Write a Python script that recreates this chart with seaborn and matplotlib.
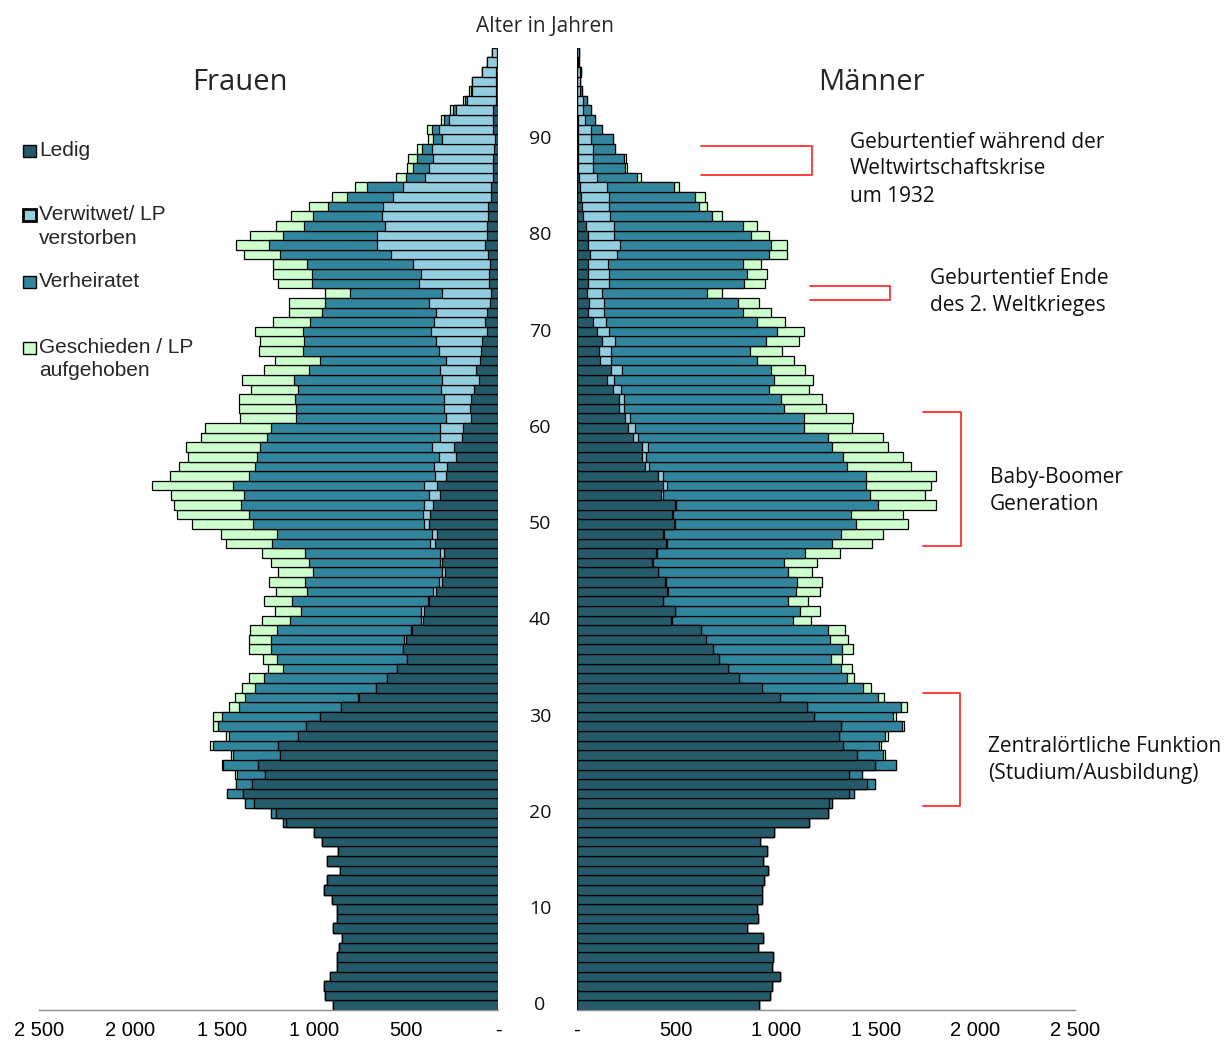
import numpy as np
import pandas as pd
import matplotlib
matplotlib.use("Agg")
import matplotlib.pyplot as plt
import seaborn as sns
from matplotlib import transforms
from matplotlib.patches import Rectangle
from matplotlib.lines import Line2D

sns.set_style("white")
plt.rcParams["font.family"] = ["Open Sans", "DejaVu Sans"]

ages = list(range(100))
categories = ["Ledig", "Verwitwet", "Verheiratet", "Geschieden"]
age_ticks = list(range(0, 100, 10))
x_ticks = [0, 500, 1000, 1500, 2000, 2500]
x_ticklabels = ["-", "500", "1 000", "1 500", "2 000", "2 500"]

# ---------------- Frauen ----------------
frauen_ledig = [897, 940, 946, 913, 875, 879, 864, 850, 897, 875,
                879, 902, 946, 930, 861, 930, 871, 957, 1000, 1155,
                1207, 1327, 1389, 1338, 1267, 1305, 1186, 1196, 1086, 1046,
                970, 855, 757, 666, 606, 548, 497, 516, 503, 467,
                410, 405, 374, 338, 305, 289, 307, 294, 345, 334,
                378, 372, 352, 316, 330, 283, 278, 231, 238, 194,
                189, 147, 151, 147, 129, 105, 118, 98, 91, 87,
                62, 71, 58, 45, 40, 50, 47, 44, 53, 71,
                62, 60, 56, 53, 40, 40, 29, 29, 29, 22,
                15, 29, 25, 25, 11, 11, 11, 11, 5, 3]
frauen_verwitwet = [0, 0, 0, 0, 0, 0, 0, 0, 0, 0,
                    0, 0, 0, 0, 0, 0, 0, 0, 0, 0,
                    0, 0, 0, 0, 0, 0, 0, 0, 0, 0,
                    0, 0, 4, 0, 0, 4, 0, 2, 11, 9,
                    11, 14, 9, 14, 15, 18, 11, 20, 27, 27,
                    27, 35, 53, 60, 71, 60, 71, 92, 121, 122,
                    127, 136, 141, 147, 183, 198, 198, 185, 229, 249,
                    303, 278, 278, 329, 267, 381, 374, 421, 532, 590,
                    599, 557, 576, 575, 532, 479, 370, 345, 327, 337,
                    292, 294, 240, 204, 156, 129, 129, 78, 57, 30]
frauen_verheiratet = [0, 0, 0, 0, 0, 0, 0, 0, 0, 0,
                      0, 0, 0, 0, 0, 0, 0, 0, 0, 14,
                      28, 49, 85, 89, 153, 191, 259, 354, 376, 477,
                      531, 556, 615, 658, 667, 617, 705, 717, 721, 726,
                      710, 656, 737, 688, 733, 699, 710, 739, 857, 841,
                      928, 949, 993, 1006, 1044, 1010, 976, 990, 939, 942,
                      919, 815, 806, 810, 776, 806, 712, 686, 742, 721,
                      699, 675, 624, 568, 501, 580, 594, 573, 599, 584,
                      510, 438, 374, 300, 252, 193, 104, 87, 87, 53,
                      45, 35, 29, 18, 13, 5, 0, 0, 0, 0]
frauen_geschieden = [0, 0, 0, 0, 0, 0, 0, 0, 0, 0,
                     0, 0, 0, 0, 0, 0, 0, 0, 0, 0,
                     0, 0, 0, 0, 12, 4, 11, 20, 19, 26,
                     48, 52, 56, 67, 81, 82, 76, 121, 119, 147,
                     151, 141, 153, 169, 191, 189, 208, 234, 254, 308,
                     335, 389, 367, 397, 440, 435, 411, 374, 400, 361,
                     361, 309, 311, 307, 254, 284, 247, 244, 240, 237,
                     256, 203, 180, 198, 131, 185, 212, 186, 199, 182,
                     180, 156, 120, 100, 82, 69, 53, 35, 45, 31,
                     27, 27, 16, 14, 12, 13, 0, 0, 0, 0]

# ---------------- Maenner ----------------
maenner_ledig = [916, 972, 982, 1020, 978, 987, 911, 936, 856, 908,
                 906, 928, 931, 941, 958, 933, 957, 921, 990, 1167,
                 1259, 1268, 1368, 1455, 1368, 1498, 1408, 1338, 1318, 1324,
                 1191, 1154, 1018, 928, 816, 758, 714, 686, 647, 624,
                 472, 495, 435, 452, 443, 410, 376, 398, 446, 431,
                 488, 477, 493, 421, 435, 408, 343, 329, 326, 281,
                 259, 242, 211, 211, 181, 151, 171, 117, 112, 129,
                 104, 84, 59, 62, 54, 59, 59, 55, 67, 59,
                 59, 47, 30, 25, 20, 17, 12, 9, 8, 8,
                 8, 8, 5, 4, 3, 3, 3, 3, 2, 2]
maenner_verwitwet = [0, 0, 0, 0, 0, 0, 0, 0, 0, 0,
                     0, 0, 0, 0, 0, 0, 0, 0, 0, 0,
                     0, 0, 0, 0, 0, 0, 0, 0, 0, 0,
                     0, 3, 0, 0, 0, 0, 0, 0, 0, 0,
                     5, 0, 0, 5, 6, 0, 8, 3, 5, 9,
                     5, 5, 5, 14, 17, 27, 22, 19, 34, 25,
                     34, 26, 28, 26, 40, 38, 56, 55, 59, 63,
                     60, 61, 80, 77, 74, 105, 105, 104, 134, 158,
                     130, 142, 137, 139, 144, 134, 88, 71, 76, 72,
                     62, 62, 37, 30, 27, 15, 12, 15, 6, 8]
maenner_verheiratet = [0, 0, 0, 0, 0, 0, 0, 0, 0, 0,
                       0, 0, 0, 0, 0, 0, 0, 0, 0, 0,
                       0, 15, 22, 43, 62, 102, 130, 180, 229, 306,
                       398, 470, 495, 507, 539, 566, 562, 647, 622, 635,
                       610, 625, 627, 642, 655, 652, 654, 744, 832, 884,
                       910, 894, 1012, 1037, 1000, 1017, 990, 986, 919, 957,
                       849, 874, 799, 786, 744, 803, 750, 734, 700, 756,
                       843, 761, 697, 672, 525, 675, 692, 674, 762, 756,
                       684, 644, 510, 448, 431, 337, 201, 162, 153, 112,
                       114, 59, 50, 37, 23, 10, 2, 4, 2, 2]
maenner_geschieden = [0, 0, 0, 0, 0, 0, 0, 0, 0, 0,
                      0, 0, 0, 0, 0, 0, 0, 0, 0, 0,
                      0, 0, 0, 0, 0, 3, 9, 9, 15, 14,
                      11, 32, 30, 40, 38, 56, 53, 52, 94, 87,
                      87, 101, 97, 123, 125, 117, 166, 176, 200, 214,
                      261, 259, 294, 277, 324, 351, 321, 305, 281, 275,
                      239, 243, 211, 206, 202, 192, 167, 186, 161, 169,
                      135, 139, 137, 102, 77, 107, 97, 90, 91, 82,
                      94, 70, 54, 44, 47, 24, 20, 12, 10, 0,
                      0, 0, 0, 0, 0, 0, 0, 0, 0, 0]

colors = ["#245a69", "#93cde0", "#31869e", "#ccffcc"]

W, H = 1229, 1044
fig = plt.figure(figsize=(W / 100, H / 100), dpi=100)


def fx(px):
    return px / W


def fy(py):
    return 1 - py / H


axL = fig.add_axes([fx(38.7), fy(1010.1), (498.0 - 38.7) / W, (1010.1 - 47.7) / H])
axR = fig.add_axes([fx(576.7), fy(1010.1), (1075.1 - 576.7) / W, (1010.1 - 47.7) / H])


def draw_side(ax, series):
    df = pd.DataFrame({"Alter": ages})
    cum = np.zeros(len(ages))
    for name, vals in zip(categories, series):
        cum = cum + np.array(vals, dtype=float)
        df[name] = cum
    # draw outermost first, then overlay inner segments (stacked look)
    for i in range(len(categories) - 1, -1, -1):
        sns.barplot(data=df, x=categories[i], y="Alter", orient="h",
                    native_scale=True, color=colors[i], saturation=1,
                    edgecolor="black", linewidth=0.9, width=1.0,
                    errorbar=None, ax=ax)


draw_side(axL, [frauen_ledig, frauen_verwitwet, frauen_verheiratet, frauen_geschieden])
draw_side(axR, [maenner_ledig, maenner_verwitwet, maenner_verheiratet, maenner_geschieden])

for ax, lim in ((axL, (2500, 0)), (axR, (0, 2500))):
    ax.set_xlim(*lim)
    ax.set_ylim(-0.5, 99.5)
    ax.set_xlabel("")
    ax.set_ylabel("")
    ax.set_yticks([])
    ax.set_xticks(x_ticks)
    ax.set_xticklabels(x_ticklabels, fontfamily="Liberation Sans", fontsize=14.5)
    for s in ("top", "left", "right"):
        ax.spines[s].set_visible(False)
    ax.spines["bottom"].set_color("#8a8a8a")
    ax.spines["bottom"].set_linewidth(1.0)
    ax.tick_params(axis="x", direction="out", length=5, width=1.0,
                   color="#8a8a8a", pad=3, labelcolor="black")
    ax.set_facecolor("none")

# age labels in the middle
trans = transforms.blended_transform_factory(fig.transFigure, axL.transData)
for a in age_ticks:
    fig.text(fx(540), a, str(a), transform=trans, ha="center", va="center",
             fontsize=14, color="#111111")

fig.text(fx(545), fy(27), "Alter in Jahren", ha="center", va="center", fontsize=15)
fig.text(fx(240), fy(82), "Frauen", ha="center", va="center", fontsize=21)
fig.text(fx(871), fy(82), "Männer", ha="center", va="center", fontsize=21)

# legend
legend_items = [("Ledig", None, 150.5, 0, 1.0),
                ("Verwitwet/ LP", "verstorben", 215, 1, 2.0),
                ("Verheiratet", None, 281.5, 2, 1.0),
                ("Geschieden / LP", "aufgehoben", 348, 3, 1.0)]
for l1, l2, yc, ci, lw in legend_items:
    fig.patches.append(Rectangle((fx(23), fy(yc + 6)), 13 / W, 12 / H,
                                 transform=fig.transFigure, facecolor=colors[ci],
                                 edgecolor="black", linewidth=lw))
    fig.text(fx(39), fy(yc), l1, ha="left", va="center", fontsize=15,
             fontfamily="Liberation Sans")
    if l2:
        fig.text(fx(39), fy(yc + 23), l2, ha="left", va="center", fontsize=15,
                 fontfamily="Liberation Sans")

# annotations
notes = [(["Geburtentief während der", "Weltwirtschaftskrise", "um 1932"], 850, 142),
         (["Geburtentief Ende", "des 2. Weltkrieges"], 930, 278),
         (["Baby-Boomer", "Generation"], 990, 477),
         (["Zentralörtliche Funktion", "(Studium/Ausbildung)"], 988, 746)]
for lines, x0, y0 in notes:
    for k, t in enumerate(lines):
        fig.text(fx(x0), fy(y0 + 27 * k), t, ha="left", va="center", fontsize=15,
                 color="#111111")

brackets = [(701, 812, 146, 175), (810, 890, 286, 300),
            (923, 961, 412, 546), (923, 960, 693, 806)]
for xa, xb, ya, yb in brackets:
    fig.lines.append(Line2D([fx(xa), fx(xb), fx(xb), fx(xa)],
                            [fy(ya), fy(ya), fy(yb), fy(yb)],
                            transform=fig.transFigure, color="#ff3030", linewidth=1.3))

fig.savefig("out.png", dpi=100)
